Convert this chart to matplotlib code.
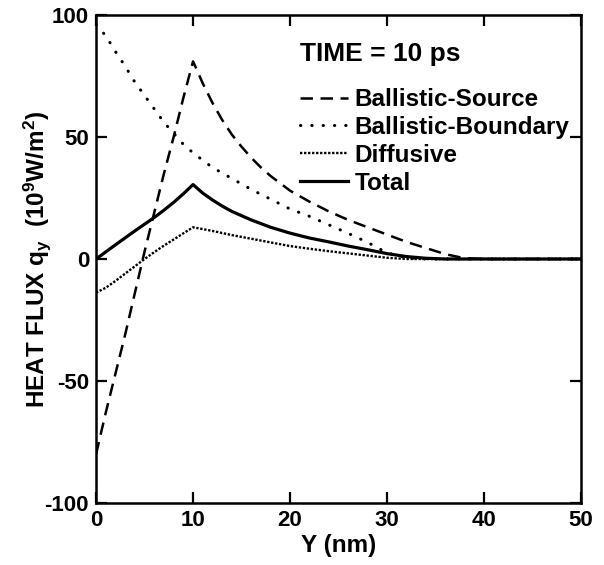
import matplotlib
matplotlib.use('Agg')
import matplotlib.pyplot as plt
import numpy as np

# --- data (Y in nm, flux in 1e9 W/m^2) ---
y_src = [0, 1, 2, 3, 4, 5, 6, 7, 8, 9, 10, 11, 12, 13, 14, 15, 16, 17, 18,
         19, 20, 22, 24, 26, 28, 30, 32, 34, 36, 38, 40, 50]
q_src = [-80, -63, -47, -31, -14, 3, 19, 35, 50, 66, 81, 72, 64, 57, 51,
         46, 41.5, 37.5, 34, 31, 28, 23.5, 19.5, 16, 13, 10, 7, 4.5, 2, 0.3, 0, 0]

y_bnd = [0, 1, 2, 3, 4, 5, 6, 7, 8, 9, 10, 12, 14, 16, 18, 20, 22, 24, 26,
         28, 30, 32, 34, 50]
q_bnd = [96, 91.5, 85, 79, 72.5, 67, 61.5, 56, 51.5, 47, 43.5, 37.5, 33, 28.5,
         24.5, 20.5, 17.5, 14, 10.5, 6.8, 2.5, 0.5, 0, 0]

y_dif = [0, 1, 2, 3, 4, 5, 6, 7, 8, 9, 10, 12, 14, 16, 18, 20, 22, 24, 26,
         28, 30, 32, 50]
q_dif = [-13.8, -11.8, -9, -6, -3, 0, 2.8, 5.5, 8, 10.5, 13, 11.5, 9.8, 8.3,
         6.8, 5.3, 4.2, 3.2, 2.3, 1.4, 0.5, 0, 0]

y_tot = [0, 2, 4, 6, 7, 8, 9, 10, 11, 12, 13, 14, 16, 18, 20, 22, 24, 26, 28,
         30, 32, 34, 36, 50]
q_tot = [0, 5.8, 11.5, 17, 20, 23.2, 26.7, 30.5, 27, 24.2, 21.7, 19.5, 16, 13,
         10.6, 8.6, 7, 5.3, 3.8, 2.2, 1, 0.3, 0, 0]

x_ticks = [0, 10, 20, 30, 40, 50]
y_ticks = [-100, -50, 0, 50, 100]

plt.rcParams['font.family'] = ['Liberation Sans', 'DejaVu Sans']
plt.rcParams['font.weight'] = 'bold'
plt.rcParams['axes.unicode_minus'] = False
plt.rcParams['mathtext.fontset'] = 'custom'
plt.rcParams['mathtext.rm'] = 'Liberation Sans:bold'
plt.rcParams['mathtext.it'] = 'Liberation Sans:bold'
plt.rcParams['mathtext.bf'] = 'Liberation Sans:bold'
plt.rcParams['mathtext.default'] = 'regular'

fig = plt.figure(figsize=(6.04, 5.65), dpi=100)
ax = fig.add_axes([0.159, 0.1097, 0.803, 0.8638])

ax.plot(y_src, q_src, color='k', lw=1.8, dashes=(5, 3),
        label='Ballistic-Source', zorder=3)
ax.plot(y_bnd, q_bnd, color='k', lw=2.2, dashes=(0.1, 3.6),
        dash_capstyle='round', label='Ballistic-Boundary', zorder=3)
ax.plot(y_dif, q_dif, color='k', lw=1.7, dashes=(1, 0.7),
        label='Diffusive', zorder=3)
ax.plot(y_tot, q_tot, '-', color='k', lw=2.3, label='Total', zorder=4)

ax.set_xlim(0, 50)
ax.set_ylim(-100, 100)
ax.set_xticks(x_ticks)
ax.set_yticks(y_ticks)
ax.tick_params(direction='in', length=8, width=1.6, top=True, right=True,
               labelsize=16)
ax.tick_params(axis='x', pad=5)
ax.tick_params(axis='y', pad=5)
for s in ax.spines.values():
    s.set_linewidth(1.8)

ax.set_xlabel('Y (nm)', fontsize=17.5, fontweight='bold', labelpad=2)
ax.set_ylabel('HEAT FLUX q$_y$  (10$^9$W/m$^2$)', fontsize=17.5,
              fontweight='bold', labelpad=-6)

leg = ax.legend(loc='upper left', bbox_to_anchor=(0.42, 0.945),
                title='TIME = 10 ps', frameon=False, fontsize=17.5,
                handlelength=2.0, handletextpad=0.25, labelspacing=0.2,
                borderpad=0, borderaxespad=0, alignment='left')
leg.get_title().set_fontsize(19)
leg.get_title().set_fontweight('bold')
leg._legend_box.sep = 16

fig.savefig('out.png', dpi=100)
